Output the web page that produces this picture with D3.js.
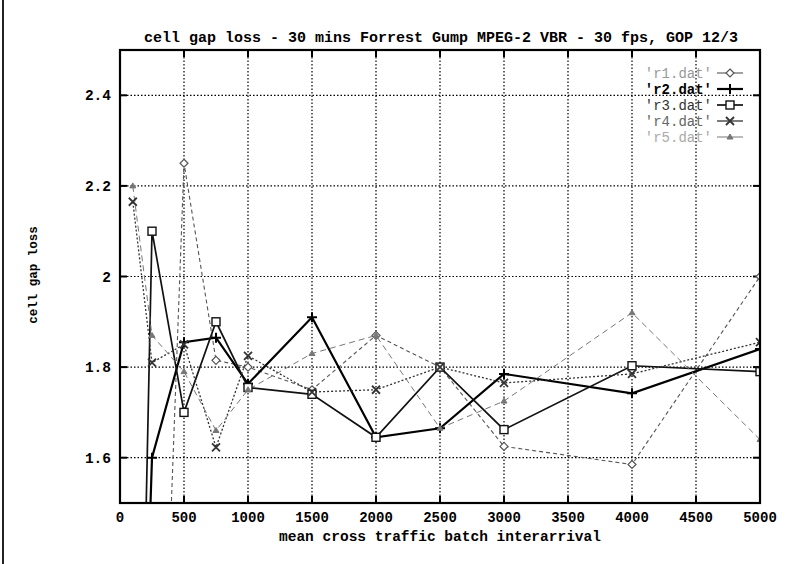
<!DOCTYPE html>
<html>
<head>
<meta charset="utf-8">
<script src="https://cdn.jsdelivr.net/npm/d3@7"></script>
<style>
  body { margin: 0; background: #fff; }
  text { font-family: "Liberation Mono", "DejaVu Sans Mono", monospace; font-weight: bold; }
</style>
</head>
<body>
<div id="chart"></div>
<script>
// data
const xValues = [100, 250, 500, 750, 1000, 1500, 2000, 2500, 3000, 4000, 5000];
const r1 = [0.3, 0.35, 2.25, 1.815, 1.80, 1.75, 1.87, 1.80, 1.625, 1.585, 2.0];
const r2 = [0.3, 1.60, 1.855, 1.865, 1.763, 1.91, 1.645, 1.665, 1.785, 1.742, 1.84];
const r3 = [0.1, 2.10, 1.70, 1.90, 1.755, 1.74, 1.645, 1.80, 1.662, 1.803, 1.79];
const r4 = [2.165, 1.81, 1.85, 1.623, 1.825, 1.745, 1.75, 1.80, 1.765, 1.785, 1.855];
const r5 = [2.2, 1.87, 1.79, 1.66, 1.75, 1.83, 1.87, 1.665, 1.725, 1.92, 1.64];
const seriesNames = ["'r1.dat'", "'r2.dat'", "'r3.dat'", "'r4.dat'", "'r5.dat'"];
const xTicks = [0, 500, 1000, 1500, 2000, 2500, 3000, 3500, 4000, 4500, 5000];
const yTicks = [1.6, 1.8, 2, 2.2, 2.4];

const width = 788, height = 564;
const plotLeft = 120, plotRight = 760, plotTop = 50, plotBottom = 503;

const svg = d3.select("#chart")
  .append("svg")
  .attr("width", width)
  .attr("height", height);

//outer page frame
svg.append("line")
  .attr("x1", 3).attr("x2", 3).attr("y1", 0).attr("y2", height)
  .attr("stroke", "#222").attr("stroke-width", 2);

const x = d3.scaleLinear().domain([0, 5000]).range([plotLeft, plotRight]);
const y = d3.scaleLinear().domain([1.5, 2.5]).range([plotBottom, plotTop]);

//grid
svg.append("g")
  .selectAll("line")
  .data(xTicks.slice(1, -1))
  .join("line")
  .attr("x1", d => x(d)).attr("x2", d => x(d))
  .attr("y1", plotTop).attr("y2", plotBottom)
  .attr("stroke", "#000").attr("stroke-width", 1.2)
  .attr("stroke-dasharray", "1.5,2");

svg.append("g")
  .selectAll("line")
  .data(yTicks)
  .join("line")
  .attr("x1", plotLeft).attr("x2", plotRight)
  .attr("y1", d => y(d)).attr("y2", d => y(d))
  .attr("stroke", "#000").attr("stroke-width", 1.2)
  .attr("stroke-dasharray", "1.5,2");

//ticks on all four sides, pointing in
const tick = 7;
const ticks = svg.append("g").attr("stroke", "#000").attr("stroke-width", 2);
xTicks.forEach(d => {
  ticks.append("line").attr("x1", x(d)).attr("x2", x(d)).attr("y1", plotBottom).attr("y2", plotBottom - tick);
  ticks.append("line").attr("x1", x(d)).attr("x2", x(d)).attr("y1", plotTop).attr("y2", plotTop + tick);
});
yTicks.forEach(d => {
  ticks.append("line").attr("x1", plotLeft).attr("x2", plotLeft + tick).attr("y1", y(d)).attr("y2", y(d));
  ticks.append("line").attr("x1", plotRight).attr("x2", plotRight - tick).attr("y1", y(d)).attr("y2", y(d));
});

//tick labels
svg.append("g")
  .selectAll("text")
  .data(xTicks)
  .join("text")
  .attr("x", d => x(d))
  .attr("y", 522)
  .attr("text-anchor", "middle")
  .style("font-size", "14px")
  .text(d => d);

svg.append("g")
  .selectAll("text")
  .data(yTicks)
  .join("text")
  .attr("x", 111)
  .attr("y", d => y(d) + 5)
  .attr("text-anchor", "end")
  .style("font-size", "14.5px")
  .text(d => d);

//titles
svg.append("text")
  .attr("x", 441).attr("y", 42)
  .attr("text-anchor", "middle")
  .style("font-size", "15px")
  .text("cell gap loss - 30 mins Forrest Gump MPEG-2 VBR - 30 fps, GOP 12/3");

svg.append("text")
  .attr("x", 440).attr("y", 541)
  .attr("text-anchor", "middle")
  .style("font-size", "14.5px")
  .text("mean cross traffic batch interarrival");

svg.append("text")
  .attr("transform", "translate(37,275) rotate(-90)")
  .attr("text-anchor", "middle")
  .style("font-size", "12.5px")
  .text("cell gap loss");

//series styles
const series = [
  { name: seriesNames[0], values: r1, color: "#555", width: 1.1, dash: "4,3", marker: "diamond" },
  { name: seriesNames[1], values: r2, color: "#000", width: 2.2, dash: null, marker: "plus" },
  { name: seriesNames[2], values: r3, color: "#111", width: 1.7, dash: null, marker: "square" },
  { name: seriesNames[3], values: r4, color: "#333", width: 1.3, dash: "2,2", marker: "cross" },
  { name: seriesNames[4], values: r5, color: "#777", width: 1.0, dash: "6,4", marker: "arrow" }
];

svg.append("clipPath").attr("id", "plot-clip")
  .append("rect")
  .attr("x", plotLeft).attr("y", plotTop)
  .attr("width", plotRight - plotLeft).attr("height", plotBottom - plotTop);

const line = d3.line()
  .x((d, i) => x(xValues[i]))
  .y(d => y(d));

function drawMarker(g, type, cx, cy, color) {
  const s = 4;
  if (type === "diamond") {
    g.append("path")
      .attr("d", `M${cx},${cy - s}L${cx + s},${cy}L${cx},${cy + s}L${cx - s},${cy}Z`)
      .attr("fill", "#fff").attr("stroke", color).attr("stroke-width", 1.2);
  } else if (type === "plus") {
    g.append("path")
      .attr("d", `M${cx - s - 1},${cy}H${cx + s + 1}M${cx},${cy - s - 1}V${cy + s + 1}`)
      .attr("stroke", color).attr("stroke-width", 2);
  } else if (type === "square") {
    g.append("rect")
      .attr("x", cx - s).attr("y", cy - s).attr("width", 2 * s).attr("height", 2 * s)
      .attr("fill", "#fff").attr("stroke", color).attr("stroke-width", 1.4);
  } else if (type === "cross") {
    g.append("path")
      .attr("d", `M${cx - s},${cy - s}L${cx + s},${cy + s}M${cx - s},${cy + s}L${cx + s},${cy - s}`)
      .attr("stroke", color).attr("stroke-width", 1.8);
  } else {
    g.append("path")
      .attr("d", `M${cx - 3},${cy + 2}L${cx},${cy - 3}L${cx + 3},${cy + 2}Z`)
      .attr("fill", color).attr("stroke", color).attr("stroke-width", 1);
  }
}

const plot = svg.append("g").attr("clip-path", "url(#plot-clip)");

series.forEach(s => {
  plot.append("path")
    .datum(s.values)
    .attr("d", line)
    .attr("fill", "none")
    .attr("stroke", s.color)
    .attr("stroke-width", s.width)
    .attr("stroke-dasharray", s.dash);
});

series.forEach(s => {
  const g = plot.append("g");
  s.values.forEach((v, i) => {
    if (v >= 1.5 && v <= 2.5) drawMarker(g, s.marker, x(xValues[i]), y(v), s.color);
  });
});

//plot frame
svg.append("rect")
  .attr("x", plotLeft).attr("y", plotTop)
  .attr("width", plotRight - plotLeft).attr("height", plotBottom - plotTop)
  .attr("fill", "none")
  .attr("stroke", "#000")
  .attr("stroke-width", 2.2);

//legend
const legendY = [73, 89, 105, 121, 137];
const legendTextColors = ["#999", "#000", "#333", "#666", "#aaa"];
const legend = svg.append("g");
series.forEach((s, i) => {
  legend.append("text")
    .attr("x", 712).attr("y", legendY[i] + 5)
    .attr("text-anchor", "end")
    .style("font-size", "14px")
    .style("font-weight", i === 1 ? "bold" : "normal")
    .attr("fill", legendTextColors[i])
    .text(s.name);
  legend.append("line")
    .attr("x1", 717).attr("x2", 743)
    .attr("y1", legendY[i]).attr("y2", legendY[i])
    .attr("stroke", s.color)
    .attr("stroke-width", s.width);
  drawMarker(legend, s.marker, 730, legendY[i], s.color);
});
</script>
</body>
</html>
